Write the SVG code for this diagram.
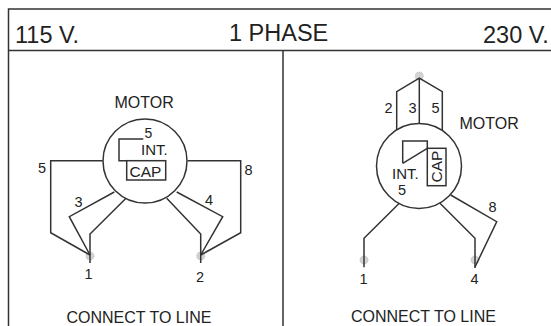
<svg xmlns="http://www.w3.org/2000/svg" width="551" height="326" viewBox="0 0 551 326">
<style>
text{font-family:"Liberation Sans",Arial,sans-serif;fill:#222}
.l{fill:none;stroke:#333;stroke-width:1.5;stroke-linejoin:miter}
.t{fill:#d4d4d4;stroke:#aaa;stroke-width:.8;stroke-dasharray:1 1}
.s{font-size:14.500px}
.m{font-size:16px}
.i{font-size:15px}
.c{font-size:15.500px}
.h{font-size:23.500px}
</style>
<rect width="551" height="326" fill="#fff"/>
<g id="frame">
<path class="l" d="M551 9H8.500V326M8.500 50.500H551M283 50.500V326"/>
<text class="h" x="15" y="42.500">115 V.</text>
<text class="h" x="229" y="40.500">1 PHASE</text>
<text class="h" x="483" y="42.500">230 V.</text>
</g>
<g id="terminals">
<circle class="t" cx="90" cy="256" r="4"/><circle class="t" cx="200.700" cy="256" r="4"/>
<circle class="t" cx="419.300" cy="76" r="4"/><circle class="t" cx="364" cy="260" r="4"/><circle class="t" cx="475" cy="260" r="4"/>
</g>
<g id="connectors">
<path class="l" d="M102.700 160.700H50.700V232.700L90 255"/>
<path class="l" d="M114.300 192L69.300 216.700L90 255"/>
<path class="l" d="M126 198.300L90 234V263"/>
<path class="l" d="M176.700 192L222.700 216.700L200.700 255"/>
<path class="l" d="M166.700 198.300L200.700 234V263"/>
<path class="l" d="M187.700 160.700H240.700V232.700L200.700 255"/>
<path class="l" d="M396.700 130V91.700L419.300 78L442.300 91.700V130"/>
<path class="l" d="M419.300 78V123.300"/>
<path class="l" d="M399.300 203.300L364 238.300V267.300"/>
<path class="l" d="M440 203.300L475 238.300V268"/>
<path class="l" d="M450.700 195L496.700 221.700L475 267"/>
</g>
<g id="motor-115">
<circle class="l" cx="145" cy="161" r="42"/>
<path class="l" d="M143.300 139H119V160.700H126.700"/>
<rect class="l" x="126.700" y="160.700" width="39" height="19.300"/>
<text class="m" x="114.500" y="108">MOTOR</text>
<text x="144.500" y="137.500" font-size="14">5</text>
<text class="i" x="141" y="154.800">INT.</text>
<text class="c" x="129.500" y="177">CAP</text>
</g>
<g id="motor-230">
<circle class="l" cx="419" cy="166" r="42.500"/>
<path class="l" d="M402.700 163.300V141H427.300V148.300L402.700 163.300"/>
<rect class="l" x="427.300" y="148.300" width="18.700" height="37.400"/>
<text class="m" x="459.500" y="129">MOTOR</text>
<text class="i" x="392" y="178.500">INT.</text>
<text class="s" x="398" y="195">5</text>
<text class="c" transform="translate(441.700 182.500) rotate(-90)">CAP</text>
</g>
<g id="labels-115">
<text class="s" x="38" y="172.500">5</text><text class="s" x="244.500" y="175">8</text>
<text class="s" x="74.500" y="207">3</text><text class="s" x="205" y="204.500">4</text>
<text class="s" x="84.500" y="279">1</text><text class="s" x="196" y="282">2</text>
<text class="m" x="66.500" y="323">CONNECT TO LINE</text>
</g>
<g id="labels-230">
<text class="s" x="384.500" y="112.500">2</text><text class="s" x="408.500" y="112.500">3</text><text class="s" x="431.500" y="112.500">5</text>
<text class="s" x="488.500" y="211.500">8</text>
<text class="s" x="359.500" y="284">1</text><text class="s" x="470.500" y="284">4</text>
<text class="m" x="351" y="321.500">CONNECT TO LINE</text>
</g>
</svg>
